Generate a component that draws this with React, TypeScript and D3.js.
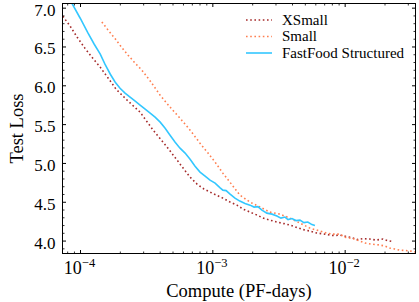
import React from 'react';
import * as d3 from 'd3';

const xsmallCompute = [7.35e-5, 8.36e-5, 9.44e-5, 1.08e-4, 1.22e-4, 1.41e-4, 1.62e-4, 1.86e-4, 2.25e-4, 2.82e-4, 3.54e-4, 4.51e-4, 5.37e-4, 5.96e-4, 6.73e-4, 7.6e-4, 8.59e-4, 9.53e-4, 1.08e-3, 1.19e-3, 1.35e-3, 1.52e-3, 1.69e-3, 1.91e-3, 2.16e-3, 2.39e-3, 2.7e-3, 3.05e-3, 3.45e-3, 3.83e-3, 4.32e-3, 4.8e-3, 5.42e-3, 6.12e-3, 7.03e-3, 8.09e-3, 9.13e-3, 1.03e-2, 1.12e-2, 1.23e-2, 1.36e-2, 1.54e-2, 1.71e-2, 1.93e-2, 2.1e-2, 2.29e-2];
const xsmallLoss = [6.896, 6.767, 6.625, 6.484, 6.368, 6.239, 6.098, 5.955, 5.815, 5.66, 5.429, 5.21, 5.042, 4.94, 4.824, 4.734, 4.669, 4.631, 4.586, 4.553, 4.502, 4.463, 4.412, 4.373, 4.335, 4.296, 4.27, 4.245, 4.225, 4.206, 4.174, 4.148, 4.129, 4.103, 4.09, 4.071, 4.077, 4.058, 4.045, 4.019, 4.032, 4.026, 4.013, 4.026, 4.006, 3.994];

const smallCompute = [1.45e-4, 1.62e-4, 1.83e-4, 2.03e-4, 2.29e-4, 2.59e-4, 2.91e-4, 3.36e-4, 4.0e-4, 4.75e-4, 5.65e-4, 6.73e-4, 8.0e-4, 9.2e-4, 1.04e-3, 1.19e-3, 1.4e-3, 1.6e-3, 1.91e-3, 2.27e-3, 2.7e-3, 3.21e-3, 3.82e-3, 4.55e-3, 5.41e-3, 6.44e-3, 7.28e-3, 8.07e-3, 9.13e-3, 9.94e-3, 1.08e-2, 1.18e-2, 1.29e-2, 1.41e-2, 1.59e-2, 1.83e-2, 2.0e-2, 2.17e-2, 2.37e-2, 2.58e-2, 2.87e-2, 3.13e-2, 3.41e-2];
const smallLoss = [6.822, 6.716, 6.605, 6.503, 6.394, 6.291, 6.201, 6.063, 5.879, 5.725, 5.583, 5.429, 5.261, 5.133, 5.017, 4.875, 4.721, 4.592, 4.502, 4.438, 4.373, 4.347, 4.296, 4.232, 4.167, 4.129, 4.103, 4.09, 4.09, 4.051, 4.039, 4.026, 4.0, 3.974, 3.961, 3.949, 3.936, 3.91, 3.897, 3.884, 3.878, 3.871, 3.858];

const fastfoodCompute = [8.36e-5, 9.95e-5, 1.14e-4, 1.27e-4, 1.41e-4, 1.53e-4, 1.68e-4, 1.83e-4, 1.99e-4, 2.17e-4, 2.37e-4, 2.59e-4, 2.82e-4, 3.08e-4, 3.36e-4, 3.66e-4, 4.0e-4, 4.36e-4, 4.75e-4, 5.19e-4, 5.65e-4, 6.17e-4, 6.73e-4, 7.34e-4, 8.0e-4, 8.74e-4, 9.52e-4, 1.04e-3, 1.13e-3, 1.19e-3, 1.26e-3, 1.35e-3, 1.47e-3, 1.6e-3, 1.75e-3, 1.91e-3, 2.05e-3, 2.19e-3, 2.35e-3, 2.56e-3, 2.8e-3, 3.05e-3, 3.27e-3, 3.51e-3, 3.7e-3, 3.96e-3, 4.25e-3, 4.55e-3, 4.88e-3, 5.22e-3, 5.61e-3, 5.91e-3];
const fastfoodLoss = [7.102, 6.87, 6.677, 6.535, 6.407, 6.278, 6.149, 6.046, 5.969, 5.905, 5.853, 5.802, 5.751, 5.699, 5.648, 5.596, 5.532, 5.454, 5.364, 5.274, 5.197, 5.133, 5.055, 4.965, 4.888, 4.837, 4.785, 4.746, 4.689, 4.656, 4.65, 4.605, 4.553, 4.515, 4.483, 4.463, 4.438, 4.444, 4.399, 4.36, 4.347, 4.322, 4.296, 4.309, 4.277, 4.29, 4.264, 4.27, 4.238, 4.245, 4.212, 4.2];

const yTickValues = [4.0, 4.5, 5.0, 5.5, 6.0, 6.5, 7.0];
const xTickExponents = [-4, -3, -2];
const seriesNames = ['XSmall', 'Small', 'FastFood Structured'];
const seriesColors = ['#a52a2a', '#ff7f50', '#33c7ff'];

const FONT = "'Liberation Serif', 'DejaVu Serif', serif";

export default function App() {
  const W = 419, H = 302;
  const L = 62.5, R = 415.5, T = 3.5, B = 253.5;
  const x = d3.scaleLog().domain([7.31e-5, 3.4e-2]).range([L, R]);
  const y = d3.scaleLinear().domain([3.84, 7.06]).range([B, T]);

  const series = [
    { c: xsmallCompute, l: xsmallLoss, dotted: true },
    { c: smallCompute, l: smallLoss, dotted: true },
    { c: fastfoodCompute, l: fastfoodLoss, dotted: false },
  ];
  const line = d3.line<[number, number]>().x(d => x(d[0])).y(d => y(d[1]));

  const [d0, d1] = x.domain();
  const xMinor: number[] = [];
  for (let e = -5; e <= -1; e++) {
    for (let k = 2; k <= 9; k++) {
      const v = k * Math.pow(10, e);
      if (v >= d0 && v <= d1) xMinor.push(v);
    }
  }
  const xMajor = xTickExponents.map(e => Math.pow(10, e));
  const yMinor = d3.range(39, 71).map(v => v / 10).filter(v => !yTickValues.some(t => Math.abs(t - v) < 1e-6));

  const maj = 3.5, mn = 2;

  return (
    <svg width={W} height={H} style={{ position: 'absolute', left: 0, top: 0 }} fontFamily={FONT}>
      <defs>
        <clipPath id="plotclip"><rect x={L} y={T} width={R - L} height={B - T} /></clipPath>
      </defs>
      <g clipPath="url(#plotclip)">
        {series.map((s, i) => (
          <path key={i} d={line(s.c.map((c, j) => [c, s.l[j]] as [number, number])) || ''}
            fill="none" stroke={seriesColors[i]} strokeWidth={1.6}
            strokeDasharray={s.dotted ? '1.6 2.6' : undefined} />
        ))}
      </g>
      <rect x={L} y={T} width={R - L} height={B - T} fill="none" stroke="#000" strokeWidth={1} />
      {xMajor.map((v, i) => (
        <g key={'xm' + i}>
          <line x1={x(v)} x2={x(v)} y1={B} y2={B - maj} stroke="#000" />
          <line x1={x(v)} x2={x(v)} y1={T} y2={T + maj} stroke="#000" />
          <text x={x(v) - 1} y={274} textAnchor="middle" fontSize={18} fill="#000">
            10<tspan fontSize={12.5} dy={-7.5}>{'\u2212' + String(-xTickExponents[i])}</tspan>
          </text>
        </g>
      ))}
      {xMinor.map((v, i) => (
        <g key={'xn' + i}>
          <line x1={x(v)} x2={x(v)} y1={B} y2={B - mn} stroke="#000" strokeWidth={0.8} />
          <line x1={x(v)} x2={x(v)} y1={T} y2={T + mn} stroke="#000" strokeWidth={0.8} />
        </g>
      ))}
      {yTickValues.map((v, i) => (
        <g key={'ym' + i}>
          <line x1={L} x2={L + maj} y1={y(v)} y2={y(v)} stroke="#000" />
          <line x1={R} x2={R - maj} y1={y(v)} y2={y(v)} stroke="#000" />
          <text x={55.5} y={y(v) + 7.5} textAnchor="end" fontSize={17} fill="#000">{v.toFixed(1)}</text>
        </g>
      ))}
      {yMinor.filter(v => y(v) >= T && y(v) <= B).map((v, i) => (
        <g key={'yn' + i}>
          <line x1={L} x2={L + mn} y1={y(v)} y2={y(v)} stroke="#000" strokeWidth={0.8} />
          <line x1={R} x2={R - mn} y1={y(v)} y2={y(v)} stroke="#000" strokeWidth={0.8} />
        </g>
      ))}
      <text x={(L + R) / 2} y={297} textAnchor="middle" fontSize={18.5} fill="#000">Compute (PF-days)</text>
      <text transform={`translate(23,${(T + B) / 2}) rotate(-90)`} textAnchor="middle" fontSize={18.5} fill="#000">Test Loss</text>
      {seriesNames.map((n, i) => {
        const ly = 20 + i * 16.5;
        return (
          <g key={'lg' + i}>
            <line x1={246} x2={272} y1={ly} y2={ly} stroke={seriesColors[i]} strokeWidth={1.6}
              strokeDasharray={series[i].dotted ? '1.6 2.6' : undefined} />
            <text x={282} y={ly + 4.5} fontSize={15} fill="#000">{n}</text>
          </g>
        );
      })}
    </svg>
  );
}
